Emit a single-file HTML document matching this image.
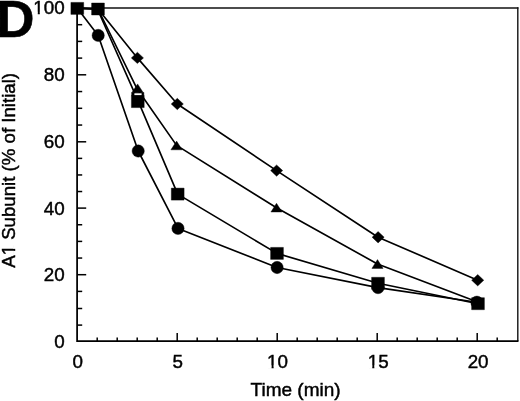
<!DOCTYPE html>
<html><head><meta charset="utf-8"><style>
html,body{margin:0;padding:0;background:#fff;width:520px;height:401px;overflow:hidden}
svg{display:block;will-change:transform}
text{font-family:"Liberation Sans",sans-serif}
</style></head><body>
<svg width="520" height="401" viewBox="0 0 520 401">
<path d="M77.1,8.0 H518.4" fill="none" stroke="#111" stroke-width="1.6"/>
<path d="M517.8,7.3 V341" fill="none" stroke="#111" stroke-width="1.4"/>
<path d="M77.1,7.5 V341 H518.5" fill="none" stroke="#000" stroke-width="1.75"/>
<line x1="77.2" y1="325.10" x2="82.20" y2="325.10" stroke="#000" stroke-width="1.5"/>
<line x1="77.2" y1="308.50" x2="82.20" y2="308.50" stroke="#000" stroke-width="1.5"/>
<line x1="77.2" y1="291.40" x2="82.20" y2="291.40" stroke="#000" stroke-width="1.5"/>
<line x1="77.2" y1="274.70" x2="86.20" y2="274.70" stroke="#000" stroke-width="1.5"/>
<line x1="77.2" y1="258.05" x2="82.20" y2="258.05" stroke="#000" stroke-width="1.5"/>
<line x1="77.2" y1="241.40" x2="82.20" y2="241.40" stroke="#000" stroke-width="1.5"/>
<line x1="77.2" y1="224.75" x2="82.20" y2="224.75" stroke="#000" stroke-width="1.5"/>
<line x1="77.2" y1="208.10" x2="86.20" y2="208.10" stroke="#000" stroke-width="1.5"/>
<line x1="77.2" y1="191.53" x2="82.20" y2="191.53" stroke="#000" stroke-width="1.5"/>
<line x1="77.2" y1="174.95" x2="82.20" y2="174.95" stroke="#000" stroke-width="1.5"/>
<line x1="77.2" y1="158.38" x2="82.20" y2="158.38" stroke="#000" stroke-width="1.5"/>
<line x1="77.2" y1="141.80" x2="86.20" y2="141.80" stroke="#000" stroke-width="1.5"/>
<line x1="77.2" y1="125.05" x2="82.20" y2="125.05" stroke="#000" stroke-width="1.5"/>
<line x1="77.2" y1="108.30" x2="82.20" y2="108.30" stroke="#000" stroke-width="1.5"/>
<line x1="77.2" y1="91.55" x2="82.20" y2="91.55" stroke="#000" stroke-width="1.5"/>
<line x1="77.2" y1="74.80" x2="86.20" y2="74.80" stroke="#000" stroke-width="1.5"/>
<line x1="77.2" y1="58.10" x2="82.20" y2="58.10" stroke="#000" stroke-width="1.5"/>
<line x1="77.2" y1="41.40" x2="82.20" y2="41.40" stroke="#000" stroke-width="1.5"/>
<line x1="77.2" y1="24.70" x2="82.20" y2="24.70" stroke="#000" stroke-width="1.5"/>
<line x1="97.20" y1="341" x2="97.20" y2="337.60" stroke="#000" stroke-width="1.5"/>
<line x1="117.20" y1="341" x2="117.20" y2="337.60" stroke="#000" stroke-width="1.5"/>
<line x1="137.20" y1="341" x2="137.20" y2="337.60" stroke="#000" stroke-width="1.5"/>
<line x1="157.20" y1="341" x2="157.20" y2="337.60" stroke="#000" stroke-width="1.5"/>
<line x1="177.20" y1="341" x2="177.20" y2="333.00" stroke="#000" stroke-width="1.5"/>
<line x1="197.20" y1="341" x2="197.20" y2="337.60" stroke="#000" stroke-width="1.5"/>
<line x1="217.20" y1="341" x2="217.20" y2="337.60" stroke="#000" stroke-width="1.5"/>
<line x1="237.20" y1="341" x2="237.20" y2="337.60" stroke="#000" stroke-width="1.5"/>
<line x1="257.20" y1="341" x2="257.20" y2="337.60" stroke="#000" stroke-width="1.5"/>
<line x1="277.20" y1="341" x2="277.20" y2="333.00" stroke="#000" stroke-width="1.5"/>
<line x1="297.20" y1="341" x2="297.20" y2="337.60" stroke="#000" stroke-width="1.5"/>
<line x1="317.20" y1="341" x2="317.20" y2="337.60" stroke="#000" stroke-width="1.5"/>
<line x1="337.20" y1="341" x2="337.20" y2="337.60" stroke="#000" stroke-width="1.5"/>
<line x1="357.20" y1="341" x2="357.20" y2="337.60" stroke="#000" stroke-width="1.5"/>
<line x1="377.20" y1="341" x2="377.20" y2="333.00" stroke="#000" stroke-width="1.5"/>
<line x1="397.20" y1="341" x2="397.20" y2="337.60" stroke="#000" stroke-width="1.5"/>
<line x1="417.20" y1="341" x2="417.20" y2="337.60" stroke="#000" stroke-width="1.5"/>
<line x1="437.20" y1="341" x2="437.20" y2="337.60" stroke="#000" stroke-width="1.5"/>
<line x1="457.20" y1="341" x2="457.20" y2="337.60" stroke="#000" stroke-width="1.5"/>
<line x1="477.20" y1="341" x2="477.20" y2="333.00" stroke="#000" stroke-width="1.5"/>
<line x1="497.20" y1="341" x2="497.20" y2="337.60" stroke="#000" stroke-width="1.5"/>
<polyline points="77.3,8.2 98.2,35.4 138.2,151.0 178.0,228.4 277.1,267.5 378.0,287.6 476.9,302.2" fill="none" stroke="#000" stroke-width="1.65" stroke-linejoin="round"/>
<polyline points="77.3,8.4 97.4,9.0 138.4,101.6 177.7,194.1 277.0,253.4 378.0,283.3 478.0,303.7" fill="none" stroke="#000" stroke-width="1.65" stroke-linejoin="round"/>
<polyline points="77.3,8.2 98.0,9.0 136.7,88.2 176.6,145.4 276.5,207.7 377.5,264.0 477.6,302.0" fill="none" stroke="#000" stroke-width="1.65" stroke-linejoin="round"/>
<polyline points="77.3,8.2 98.0,9.0 137.4,57.9 177.3,104.0 276.6,170.6 378.1,237.2 477.7,280.2" fill="none" stroke="#000" stroke-width="1.65" stroke-linejoin="round"/>
<g fill="#000" stroke="#000" stroke-width="0.4" stroke-linejoin="round"><path d="M98.0,3.3 L104.0,9.0 L98.0,14.7 L92.0,9.0Z"/><path d="M137.4,52.2 L143.5,57.9 L137.4,63.6 L131.3,57.9Z"/><path d="M177.3,98.3 L183.4,104.0 L177.3,109.7 L171.2,104.0Z"/><path d="M276.6,164.9 L282.7,170.6 L276.6,176.3 L270.6,170.6Z"/><path d="M378.1,231.5 L384.2,237.2 L378.1,242.9 L372.1,237.2Z"/><path d="M477.7,274.5 L483.8,280.2 L477.7,285.9 L471.6,280.2Z"/><path d="M98.0,4.7 L103.7,13.3 L92.3,13.3Z"/><path d="M137.6,83.9 L143.2,92.5 L131.9,92.5Z"/><path d="M176.6,141.1 L182.2,149.8 L170.9,149.8Z"/><path d="M276.5,203.3 L282.1,212.0 L270.9,212.0Z"/><path d="M377.5,259.6 L383.1,268.4 L371.9,268.4Z"/><path d="M477.6,297.6 L483.2,306.4 L472.0,306.4Z"/><circle cx="98.2" cy="35.4" r="6.15"/><circle cx="138.2" cy="151.0" r="6.15"/><circle cx="178.0" cy="228.4" r="6.15"/><circle cx="277.1" cy="267.5" r="6.15"/><circle cx="378.0" cy="287.6" r="6.15"/><circle cx="476.9" cy="302.2" r="6.15"/><rect x="70.90" y="2.40" width="12.8" height="12.0"/><rect x="91.60" y="3.00" width="12.8" height="12.0"/><rect x="131.40" y="95.60" width="12.8" height="12.0"/><rect x="171.30" y="188.10" width="12.8" height="12.0"/><rect x="270.60" y="247.40" width="12.8" height="12.0"/><rect x="371.60" y="277.30" width="12.8" height="12.0"/><rect x="471.60" y="297.70" width="12.8" height="12.0"/><path d="M131.6,92.4 H143.9 V96 H131.6Z"/></g>
<rect x="134.4" y="93.3" width="7.2" height="1.8" fill="#fff"/>
<g font-family="Liberation Sans, sans-serif" font-size="18.8" fill="#000" stroke="#000" stroke-width="0.45"><text x="64.6" y="347.6" text-anchor="end">0</text><text x="64.6" y="281.3" text-anchor="end">20</text><text x="64.6" y="214.7" text-anchor="end">40</text><text x="64.6" y="148.4" text-anchor="end">60</text><text x="64.6" y="81.4" text-anchor="end">80</text><text x="64.6" y="14.0" text-anchor="end">100</text><text x="77.8" y="367.6" text-anchor="middle">0</text><text x="177.7" y="367.6" text-anchor="middle">5</text><text x="277.5" y="367.6" text-anchor="middle">10</text><text x="378.2" y="367.6" text-anchor="middle">15</text><text x="478.1" y="367.6" text-anchor="middle">20</text><text x="295.6" y="396" text-anchor="middle" font-size="19">Time (min)</text></g>
<g transform="translate(15.2,170.4) rotate(-90)"><text x="0" y="0" text-anchor="middle" font-family="Liberation Sans, sans-serif" font-size="18.65" fill="#000" stroke="#000" stroke-width="0.45">A1 Subunit (% of Initial)</text><rect x="-84.62" y="-2.15" width="4.12" height="3.45" fill="#fff"/><rect x="-78.47" y="-2.15" width="4.01" height="3.45" fill="#fff"/></g>
<rect x="33.61" y="11.84" width="4.15" height="3.46" fill="#fff"/><rect x="39.81" y="11.84" width="4.04" height="3.46" fill="#fff"/><rect x="267.42" y="365.44" width="4.15" height="3.46" fill="#fff"/><rect x="273.62" y="365.44" width="4.04" height="3.46" fill="#fff"/><rect x="368.12" y="365.44" width="4.15" height="3.46" fill="#fff"/><rect x="374.32" y="365.44" width="4.04" height="3.46" fill="#fff"/>
<text x="-3.6" y="37" font-family="Liberation Sans, sans-serif" font-weight="bold" font-size="52.5" fill="#000" stroke="#000" stroke-width="0.6">D</text>
</svg>
</body></html>
